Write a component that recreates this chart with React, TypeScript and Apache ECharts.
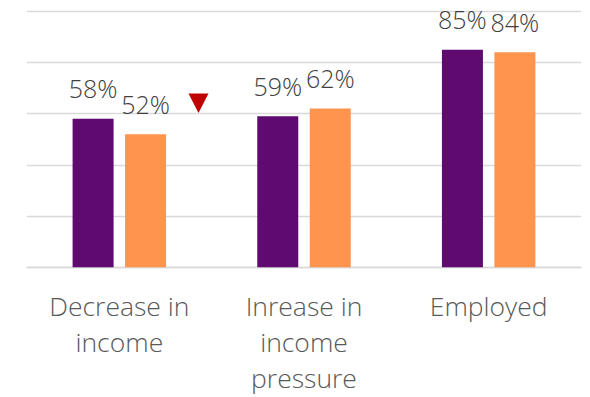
import React, { useEffect, useRef } from "react";
import * as echarts from "echarts";

const categories = ["Decrease in\nincome", "Inrease in\nincome\npressure", "Employed"];
const seriesA = [58, 59, 85];
const seriesB = [52, 62, 84];
const yTicks = [0, 20, 40, 60, 80, 100];

export default function App() {
  const ref = useRef<HTMLDivElement>(null);
  useEffect(() => {
    if (!ref.current) return;
    const chart = echarts.init(ref.current, null, { renderer: "svg" });
    const labelStyle = {
      show: true,
      position: "top" as const,
      distance: 18,
      formatter: "{c}%",
      color: "#404040",
      fontSize: 25,
      fontWeight: 350,
      fontFamily: "Open Sans",
    };
    chart.setOption({
      animation: false,
      backgroundColor: "#ffffff",
      grid: { left: 27, right: 9, top: 11.3, bottom: 129.7 },
      xAxis: {
        type: "category",
        data: categories,
        axisLine: { show: true, lineStyle: { color: "#d9d9d9", width: 1.3 } },
        axisTick: { show: false },
        axisLabel: {
          color: "#595959",
          fontSize: 26.5,
          fontWeight: 350,
          fontFamily: "Open Sans",
          lineHeight: 36,
          margin: 21,
          interval: 0,
        },
      },
      yAxis: {
        type: "value",
        min: yTicks[0],
        max: yTicks[yTicks.length - 1],
        interval: 20,
        axisLabel: { show: false },
        axisLine: { show: false },
        axisTick: { show: false },
        splitLine: { lineStyle: { color: "#d9d9d9", width: 1.3 } },
      },
      series: [
        {
          type: "bar",
          data: seriesA,
          barWidth: 41,
          barGap: "28%",
          itemStyle: { color: "#5e0a70" },
          label: labelStyle,
        },
        {
          type: "bar",
          data: seriesB,
          barWidth: 41,
          itemStyle: { color: "#ff944f" },
          label: labelStyle,
        },
      ],
      graphic: [
        {
          type: "polygon",
          shape: { points: [[188.5, 93.5], [208.5, 93.5], [198.5, 113]] },
          style: { fill: "#c00000" },
        },
      ],
    });
    return () => chart.dispose();
  }, []);
  return <div ref={ref} style={{ width: 590, height: 397, position: "absolute", left: 0, top: 0 }} />;
}
